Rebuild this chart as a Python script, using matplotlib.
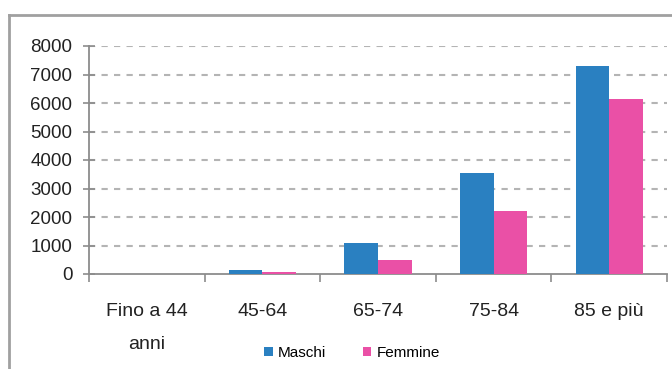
import numpy as np
import matplotlib.pyplot as plt
from matplotlib.lines import Line2D

# age classes and counts by sex
categorie = ["Fino a 44\nanni", "45-64", "65-74", "75-84", "85 e più"]
maschi = [5, 150, 1080, 3550, 7310]
femmine = [3, 85, 490, 2210, 6150]
yticks = [0, 1000, 2000, 3000, 4000, 5000, 6000, 7000, 8000]

blu = "#2a80c1"
rosa = "#ea50a6"
grigio = "#8c8c8c"

plt.rcParams['font.family'] = ['Liberation Sans', 'DejaVu Sans']

fig = plt.figure(figsize=(6.72, 3.69), dpi=100)
ax = fig.add_axes([89 / 672, 1 - 274 / 369, 578 / 672, 228 / 369])

x = np.arange(len(categorie))
w = 0.29
ax.bar(x - w / 2, maschi, w, color=blu, label="Maschi", zorder=3)
ax.bar(x + w / 2, femmine, w, color=rosa, label="Femmine", zorder=3)

ax.set_xlim(-0.5, len(categorie) - 0.5)
ax.set_ylim(0, 8000)
ax.set_yticks(yticks)
ax.set_yticklabels([str(v) for v in yticks], fontsize=13.5, color="#222222")

# dashed gridlines (no line at zero)
for v in yticks[1:]:
    ax.axhline(v, color="#b4b4b4", lw=1.5, ls=(0, (3, 3)), zorder=1)

# category labels centred, ticks on the boundaries
ax.set_xticks(x)
ax.set_xticklabels(categorie, fontsize=14, color="#222222", linespacing=2.2)
ax.tick_params(axis='x', length=0, pad=21)
ax.set_xticks(np.arange(len(categorie) + 1) - 0.5, minor=True)
ax.tick_params(axis='x', which='minor', length=6, width=1.2, color=grigio, direction='out')
ax.tick_params(axis='y', length=8, width=1.2, color=grigio, direction='inout', pad=8)

for s in ["top", "right"]:
    ax.spines[s].set_visible(False)
for s in ["left", "bottom"]:
    ax.spines[s].set_color(grigio)
    ax.spines[s].set_linewidth(1.3)

fig.legend(loc='center', bbox_to_anchor=(352 / 672, 1 - 353 / 369), ncol=2,
           frameon=False, fontsize=11, handlelength=0.55, handleheight=0.55,
           handletextpad=0.35, columnspacing=2.4)

# outer frame, only top and left edges inside the image
fig.add_artist(Line2D([8.5 / 672, 1], [1 - 14.5 / 369] * 2, color="#a0a0a0", lw=2,
                      transform=fig.transFigure))
fig.add_artist(Line2D([8.5 / 672] * 2, [0, 1 - 14.5 / 369], color="#a0a0a0", lw=2,
                      transform=fig.transFigure))

fig.savefig("out.png", dpi=100)
